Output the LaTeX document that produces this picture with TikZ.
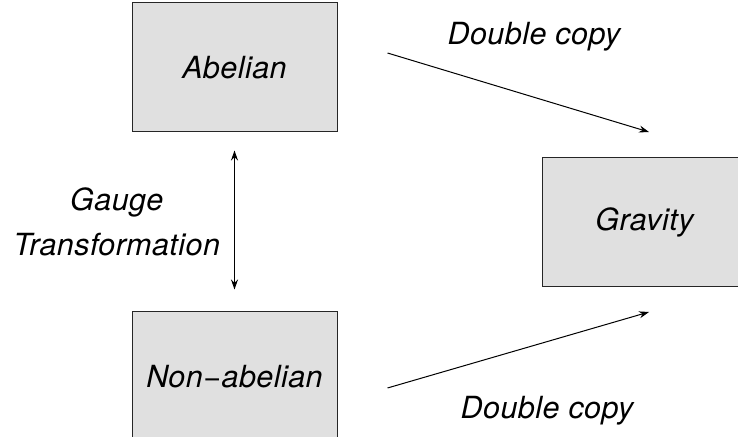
\documentclass[tikz,border=0pt]{standalone}
\usepackage{fontspec}
\setsansfont[LetterSpace=1.5]{TeX Gyre Heros}
\usetikzlibrary{positioning, calc, arrows.meta}
\definecolor{boxgray}{RGB}{224,224,224}

\begin{document}
\begin{tikzpicture}[x=0.5pt, y=-0.5pt,
    font=\sffamily\itshape\fontsize{15.25}{22.5}\selectfont,
    box/.style={draw=black!85, fill=boxgray, line width=0.5pt,
                minimum width=102.5pt, minimum height=64.5pt},
    >={Stealth[length=5pt,width=3.5pt]}]
    \useasboundingbox (0,0) rectangle (738,437);
    % Add the boxes
        \node[box] (abelian) at (234.5,67.5) {Abelian};
        \node[box,
              below=89.5pt of abelian] (nonabelian) {Non−abelian};
        \coordinate (mid) at ($(abelian.east)!0.5!(nonabelian.east)$);
        \node[box,
              right=102pt of mid] (gravity) {Gravity};

    % Gauge transformation
    \draw[<->, line width=0.5pt, shorten <=9pt, shorten >=11pt]
        (abelian) -- (nonabelian)
            node[midway, left=7pt, align=center, inner sep=0pt] {Gauge\\Transformation};

    % Double copy arrows
    \draw[->, line width=0.5pt]
        ([xshift=25pt,yshift=7.25pt]abelian.east) -- ([xshift=2.25pt,yshift=12.5pt]gravity.north)
            node[pos=0.56, above=23pt, inner sep=0pt] {Double copy};
    \draw[->, line width=0.5pt]
        ([xshift=25pt,yshift=-5.75pt]nonabelian.east) -- ([xshift=2.25pt,yshift=-12.5pt]gravity.south)
            node[pos=0.61, below=27pt, inner sep=0pt] {Double copy};
\end{tikzpicture}
\end{document}
